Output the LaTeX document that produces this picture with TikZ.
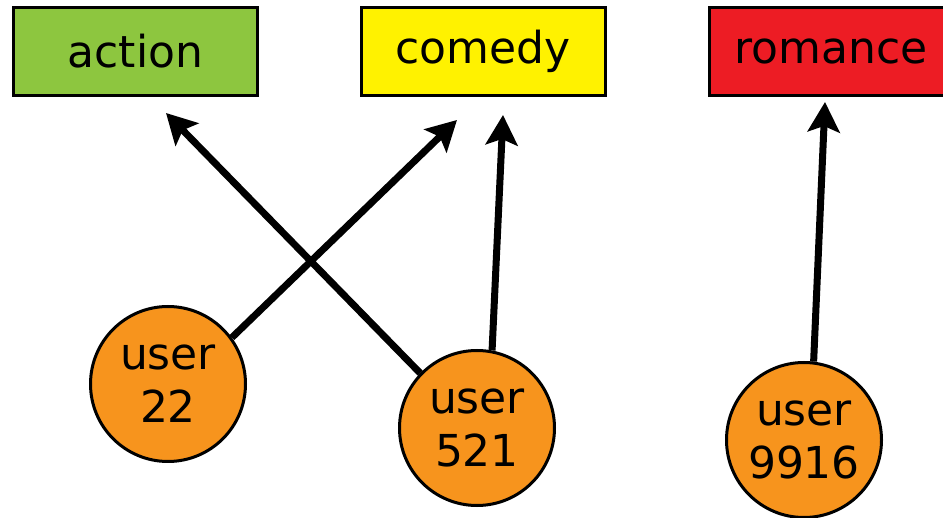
\documentclass[tikz,border=0pt]{standalone}
\usepackage{fontspec}
\setmainfont{DejaVu Sans}
\usetikzlibrary{arrows.meta}
\definecolor{cgreen}{RGB}{141,198,63}
\definecolor{cyellow}{RGB}{255,242,0}
\definecolor{cred}{RGB}{237,28,36}
\definecolor{corange}{RGB}{247,148,29}
\begin{document}
\begin{tikzpicture}[x=1pt,y=-1pt,
  genre/.style={draw=black,line width=3pt,minimum width=244pt,minimum height=88pt,inner sep=0pt,font=\fontsize{44}{53}\selectfont},
  usr/.style={circle,draw=black,line width=3pt,fill=corange,minimum size=155pt,inner sep=0pt,align=center,font=\fontsize{44}{53}\selectfont},
  link/.style={line width=7pt,-{Stealth[length=30pt,width=32pt,inset=6pt]}}]
\useasboundingbox[fill=white] (0,0) rectangle (943,518);
\node[genre,fill=cgreen] (action) at (135.5,51.5) {action};
\node[genre,fill=cyellow] (comedy) at (483,51.5) {comedy};
\node[genre,fill=cred] (romance) at (831,51.5) {romance};
\node[usr] (u22) at (168,384) {user\\22};
\node[usr] (u521) at (477,428) {user\\521};
\node[usr] (u9916) at (804,440) {user\\9916};
\coordinate (t1) at (457,120);
\coordinate (t2) at (166,113);
\coordinate (t3) at (503,115);
\coordinate (t4) at (825,102);
\draw[link] (u22.36) -- (t1);
\draw[link] (u521.136) -- (t2);
\draw[link] (u521.79) -- (t3);
\draw[link] (u9916.83) -- (t4);
\end{tikzpicture}
\end{document}
